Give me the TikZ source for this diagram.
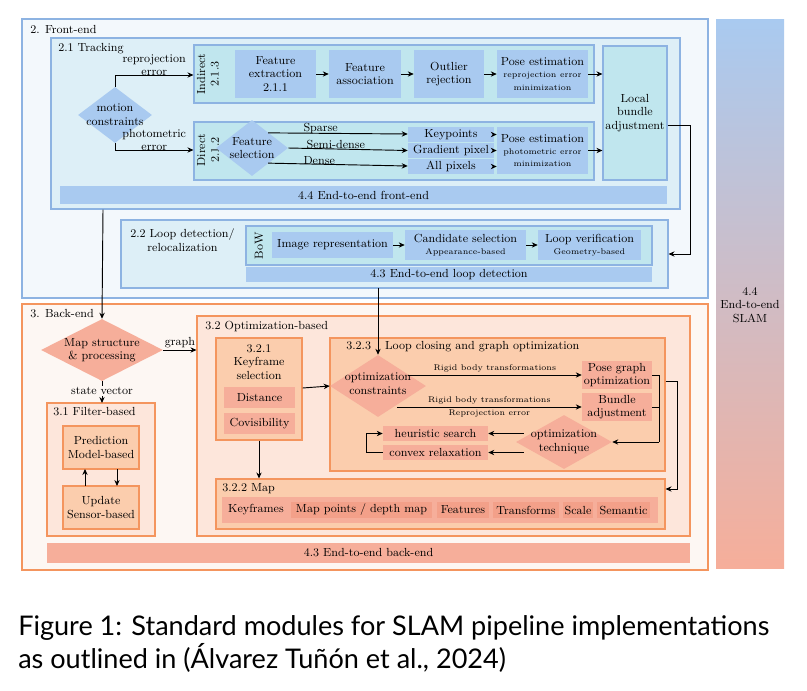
\documentclass[tikz,border=0pt]{standalone}
\usepackage{fontspec}
\newfontfamily\capfont{Lato}
\usetikzlibrary{shapes.geometric,arrows.meta}
\definecolor{feBg}{HTML}{F3F8FC}
\definecolor{bLine}{HTML}{8DB3E2}
\definecolor{trBg}{HTML}{DDEFF7}
\definecolor{cyanB}{HTML}{C0E6EE}
\definecolor{blueB}{HTML}{A9CAF0}
\definecolor{beBg}{HTML}{FDF7F3}
\definecolor{oLine}{HTML}{F4955E}
\definecolor{oBg}{HTML}{FDE6DB}
\definecolor{oBox}{HTML}{FBCDAD}
\definecolor{salm}{HTML}{F6AE9A}
\definecolor{salmD}{HTML}{F3A089}
\newcommand\R[7]{\node[#6, minimum width={(#4-#2)*0.75pt}, minimum height={(#5-#3)*0.75pt}] (#1) at ({(#2+#4)/2},{(#3+#5)/2}) {#7};}
\newcommand\D[6]{\node[diamond, inner sep=0pt, fill=#6, minimum width=#4*0.75pt, minimum height=#5*0.75pt] (#1) at (#2,#3) {};}
\newcommand\smf{\fontsize{6.2}{9}\selectfont}
\tikzset{
 bx/.style={rectangle, inner sep=0pt, align=center, font=\fontsize{8.8}{10.2}\selectfont},
 fb/.style={bx, draw=bLine, line width=0.8pt},
 fo/.style={bx, draw=oLine, line width=0.8pt},
 tx/.style={inner sep=0pt, align=center, font=\fontsize{8.8}{10.2}\selectfont},
 sm/.style={inner sep=0pt, align=center, font=\smf},
 ar/.style={-{Stealth[length=4.5pt,width=4pt]}, line width=0.7pt},
 ln/.style={line width=0.7pt}
}
\begin{document}
\begin{tikzpicture}[x=0.75pt,y=-0.75pt]
\useasboundingbox (0,0) rectangle (807,690);
% front-end
\R{fe}{22}{19}{708}{298}{fb,fill=feBg}{}
\node[tx,anchor=west] (felab) at (30,29) {2. Front-end};
\R{tr}{51}{38}{680}{209}{fb,fill=trBg}{}
\node[tx,anchor=west] (trlab) at (58,49) {2.1 Tracking};
\R{ind}{194}{45}{594}{103}{fb,fill=cyanB}{}
\node[tx,rotate=90] (indl) at (208,74) {Indirect\\2.1.3};
\R{fx}{235}{50}{316}{98}{bx,fill=blueB}{Feature\\extraction\\2.1.1}
\R{fa}{329}{50}{401}{98}{bx,fill=blueB}{Feature\\association}
\R{orj}{414}{50}{484}{98}{bx,fill=blueB}{Outlier\\rejection}
\R{pe1}{497}{50}{588}{98}{bx,fill=blueB}{Pose estimation\\[-1pt]{\smf reprojection error}\\[-1pt]{\smf minimization}}
\R{lba}{603}{46}{667}{180}{fb,fill=cyanB}{}
\node[tx] (lbal) at (635,113) {Local\\bundle\\adjustment};
\R{dir}{194}{122}{594}{180}{fb,fill=cyanB}{}
\node[tx,rotate=90] (dirl) at (208,150) {Direct\\2.1.2};
\D{fs}{252}{148}{72}{56}{blueB}
\node[tx] (fsl) at (252,148) {Feature\\selection};
\R{kp}{408}{127}{494}{142}{bx,fill=blueB}{Keypoints}
\R{gp}{408}{143}{494}{158}{bx,fill=blueB}{Gradient pixel}
\R{ap}{408}{159}{494}{174}{bx,fill=blueB}{All pixels}
\R{pe2}{497}{127}{588}{174}{bx,fill=blueB}{Pose estimation\\[-1pt]{\smf photometric error}\\[-1pt]{\smf minimization}}
\R{e2ef}{60}{186}{667}{204}{bx,fill=blueB}{4.4 End-to-end front-end}
\D{mc}{115}{115}{74}{56}{blueB}
\node[tx] (mcl) at (115,115) {motion\\constraints};
\draw[ar] (mc.north) |- (ind.west|-0,75) node[tx,pos=0.75,above=-1pt] {reprojection\\error};
\draw[ar] (mc.south) |- (dir.west|-0,150) node[tx,pos=0.75,above=-1pt] {photometric\\error};
\draw[ar] (fx) -- (fa); \draw[ar] (fa) -- (orj); \draw[ar] (orj) -- (pe1);
\draw[ar] (pe1.east) -- (lba.west|-pe1.east);
\draw[ar] (pe2.east) -- (lba.west|-pe2.east);
\draw[ar] (fs.north east) ++(-2,-1) coordinate (s1) -- (kp.west|-0,134) node[tx,pos=0.25,above=-1pt,anchor=south west] {Sparse};
\draw[ar] (fs.east) -- (gp.west) node[tx,pos=0.15,above=-1pt,anchor=south west] {Semi-dense};
\draw[ar] (fs.south east) ++(-2,1) coordinate (s3) -- (ap.west|-0,166) node[tx,pos=0.25,above=-1pt,anchor=south west] {Dense};
\draw[ar] (kp.east) -- (pe2.west|-kp.east);
\draw[ar] (gp.east) -- (pe2.west|-gp.east);
\draw[ar] (ap.east) -- (pe2.west|-ap.east);
% loop detection
\R{ld}{121}{220}{668}{288}{fb,fill=trBg}{}
\node[tx,anchor=west] (ldl) at (130,240) {2.2 Loop detection/\\relocalization};
\R{bow}{246}{226}{652}{265}{fb,fill=cyanB}{}
\node[tx,rotate=90] (bowl) at (259,246) {BoW};
\R{ir}{272}{232}{393}{258}{bx,fill=blueB}{Image representation}
\R{cs}{405}{230}{526}{260}{bx,fill=blueB}{Candidate selection\\[-1pt]{\smf Appearance-based}}
\R{lv}{538}{230}{641}{260}{bx,fill=blueB}{Loop verification\\[-1pt]{\smf Geometry-based}}
\R{e2el}{246}{267}{652}{282}{bx,fill=blueB}{4.3 End-to-end loop detection}
\draw[ar] (ir) -- (cs); \draw[ar] (cs) -- (lv);
\draw[ar] (lba.east|-0,125) -- (690,125) |- (ld.east|-0,254);
% SLAM column
\shade[top color=blueB,bottom color=salm] (716,19) rectangle (784,568);
\node[tx] (slam) at (750,305) {4.4\\End-to-end\\SLAM};
% back-end
\R{be}{22}{304}{708}{570}{fo,fill=beBg}{}
\node[tx,anchor=west] (belab) at (30,314) {3. Back-end};
\D{ms}{102}{350}{122}{62}{salm}
\node[tx] (msl) at (102,350) {Map structure\\\& processing};
\draw[ar] (tr.south-|103,0) -- (ms.north);
\R{fb1}{47}{403}{155}{536}{fo,fill=oBg}{}
\node[tx,anchor=west] (fbl) at (53,412) {3.1 Filter-based};
\R{pr}{63}{426}{139}{469}{fo,fill=oBox}{Prediction\\Model-based}
\R{up}{63}{486}{139}{529}{fo,fill=oBox}{Update\\Sensor-based}
\draw[ar] (85,486) -- (85,469);
\draw[ar] (117,469) -- (117,486);
\draw[ar] (ms.south) -- (102,403) node[tx,pos=0.45,fill=beBg,inner sep=1pt] {state vector};
\R{op}{197}{316}{690}{536}{fo,fill=oBg}{}
\node[tx,anchor=west] (opl) at (205,326) {3.2 Optimization-based};
\draw[ar] (ms.east) ++(0,0) -- (op.west|-ms.east) node[tx,midway,above=1pt] {graph};
\R{kf}{216}{338}{302}{440}{fo,fill=oBox}{}
\node[tx] (kfl) at (259,362) {3.2.1\\Keyframe\\selection};
\R{dist}{224}{387}{295}{408}{bx,fill=salm}{Distance}
\R{cov}{224}{413}{295}{434}{bx,fill=salm}{Covisibility}
\R{map}{216}{479}{665}{529}{fo,fill=oBox}{}
\node[tx,anchor=west] (mapl) at (222,489) {3.2.2 Map};
\R{mapb}{222}{497}{658}{523}{bx,fill=salm}{}
\R{m1}{224}{502}{288}{518}{bx}{Keyframes}
\R{m2}{291}{502}{432}{518}{bx,fill=salmD}{Map points / depth map}
\R{m3}{437}{502}{489}{518}{bx,fill=salmD}{Features}
\R{m4}{493}{502}{559}{518}{bx,fill=salmD}{Transforms}
\R{m5}{563}{502}{593}{518}{bx,fill=salmD}{Scale}
\R{m6}{597}{502}{650}{518}{bx,fill=salmD}{Semantic}
\draw[ar] (kf.south) -- (map.north-|kf.south);
\R{lc}{330}{338}{665}{471}{fo,fill=oBox}{}
\node[tx,anchor=west] (lcl) at (346,347) {3.2.3\hspace{1.2em}Loop closing and graph optimization};
\D{oc}{378}{386}{96}{62}{salm}
\node[tx] (ocl) at (378,384) {optimization\\constraints};
\draw[ar] (kf.east|-0,388) -- (oc.west);
\draw[ar] (378,288) -- (oc.north);
\R{pg}{582}{361}{652}{389}{bx,fill=salm}{Pose graph\\optimization}
\R{ba}{582}{393}{652}{421}{bx,fill=salm}{Bundle\\adjustment}
\draw[ar] (408,375) -- (pg.west|-0,375) node[sm,midway,above=1.5pt] {Rigid body transformations};
\draw[ar] (397,407) -- (ba.west|-0,407) node[sm,midway,above=1.5pt] {Rigid body transformations} node[sm,midway,below=1.5pt] {Reprojection error};
\D{ot}{564}{442}{96}{54}{salm}
\node[tx] (otl) at (564,442) {optimization\\technique};
\draw[ln] (pg.east) -- (659,375) -- (659,442);
\draw[ln] (ba.east) -- (659,407);
\draw[ar] (659,442) -- (ot.east);
\R{hs}{383}{426}{488}{441}{bx,fill=salm}{heuristic search}
\R{cr}{383}{445}{488}{460}{bx,fill=salm}{convex relaxation}
\draw[ar] (ot.west|-hs.east) ++(8,0) -- (hs.east);
\draw[ar] (ot.west|-cr.east) ++(8,0) -- (cr.east);
\draw[ar] (cr.west) -- (366,452.5) |- (hs.west);
\draw[ar] (lc.east|-0,381) -- (677,381) |- (map.east|-0,489);
\R{e2eb}{47}{543}{690}{563}{bx,fill=salm}{4.3 End-to-end back-end}
% caption
\node[anchor=west,inner sep=0pt,font=\capfont\fontsize{20.3}{24.5}\selectfont,align=left] (cap) at (18,644) {Figure 1: Standard modules for SLAM pipeline implementations\\as outlined in (Álvarez Tuñón et al., 2024)};
\end{tikzpicture}
\end{document}
